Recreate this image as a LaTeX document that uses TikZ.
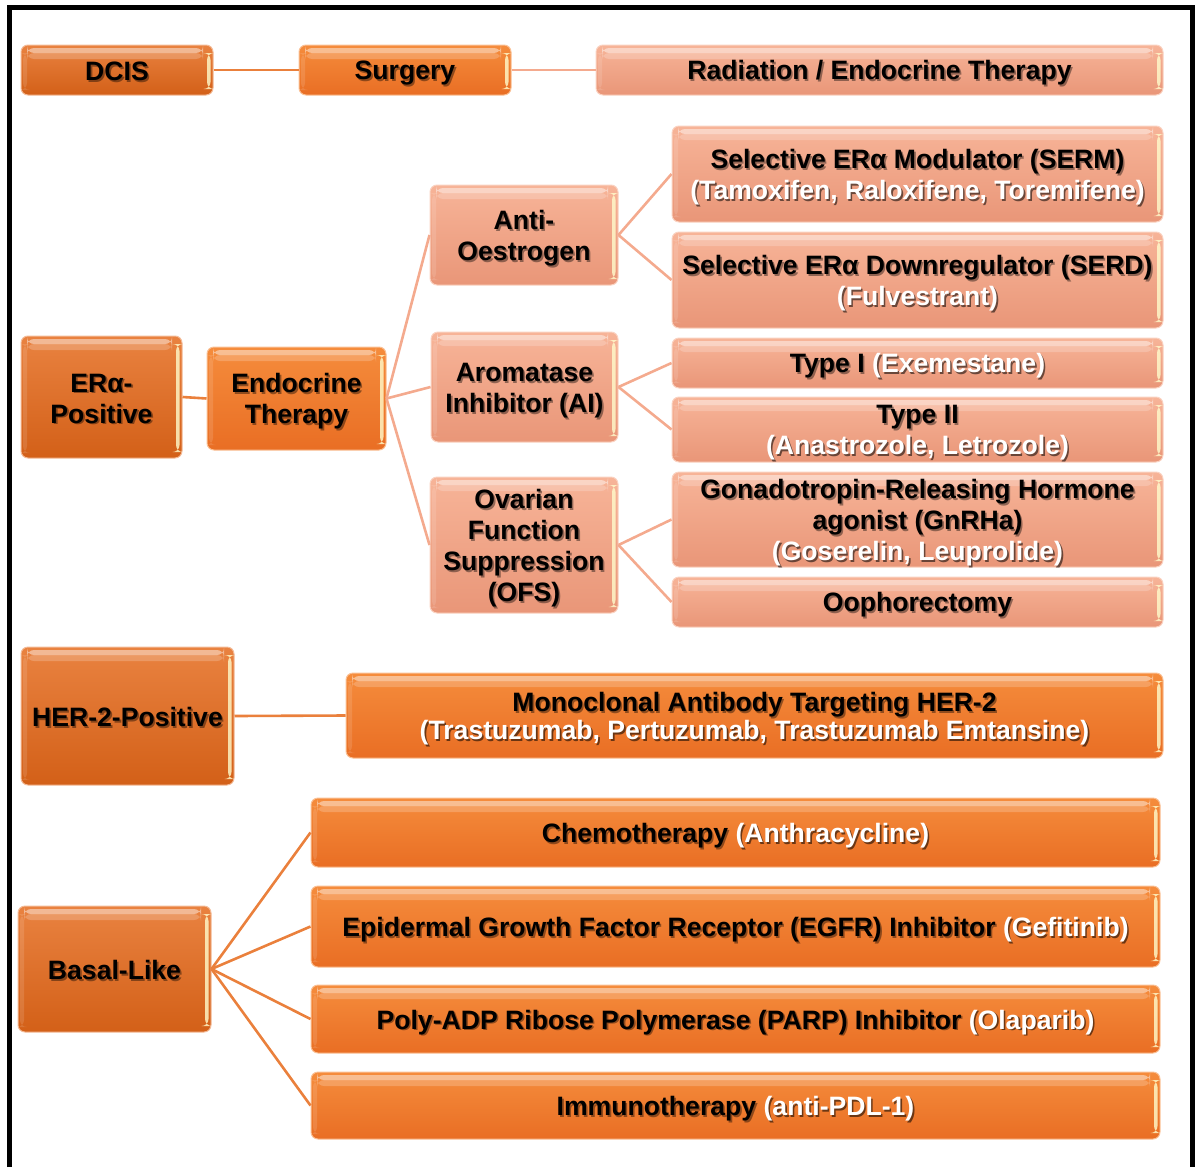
\documentclass[tikz,border=0pt]{standalone}
\usepackage{fontspec}
\setmainfont{Liberation Sans}
\definecolor{dkT}{RGB}{233,130,64}
\definecolor{dkB}{RGB}{211,96,24}
\definecolor{mdT}{RGB}{245,140,60}
\definecolor{mdB}{RGB}{233,110,36}
\definecolor{ltT}{RGB}{247,180,152}
\definecolor{ltB}{RGB}{233,150,120}
\definecolor{lnD}{RGB}{234,128,60}
\definecolor{lnL}{RGB}{244,170,142}
\newcommand\vstrut{\vrule height19.5pt depth5.6pt width0pt}
% black line with shadow
\newcommand\shB[1]{\raisebox{-3.8pt}[\height][\depth]{\vstrut\rlap{\kern1.6pt\raisebox{-1.6pt}{\pgfsetfillopacity{0.4}#1\pgfsetfillopacity{1}}}#1}}
% white line with shadow
\newcommand\shW[1]{\raisebox{-3.8pt}[\height][\depth]{\vstrut\rlap{\kern1.6pt\raisebox{-1.6pt}{\pgfsetfillopacity{0.55}\color{black}#1\pgfsetfillopacity{1}}}{\color{white}#1}}}
% black part + white part on one line
\newcommand\shL[2]{\raisebox{-3.8pt}[\height][\depth]{\vstrut\rlap{\kern1.6pt\raisebox{-1.6pt}{\color{black}\pgfsetfillopacity{0.4}#1 \pgfsetfillopacity{0.55}#2\pgfsetfillopacity{1}}}#1 {\color{white}#2}}}
\tikzset{
 gloss/.style={path picture={
   \fill[white,fill opacity=.45] ([shift={(6pt,-3pt)}]path picture bounding box.north west) rectangle ([shift={(-10pt,-8pt)}]path picture bounding box.north east);
   \fill[white,fill opacity=.2] ([shift={(6pt,-8pt)}]path picture bounding box.north west) rectangle ([shift={(-10pt,-14pt)}]path picture bounding box.north east);
   \fill[white,fill opacity=.12] ([shift={(2pt,-8pt)}]path picture bounding box.north west) rectangle ([shift={(6pt,5pt)}]path picture bounding box.south west);
   \fill[yellow!20!white,fill opacity=.8] ([shift={(-6pt,-8pt)}]path picture bounding box.north east) rectangle ([shift={(-2.5pt,6pt)}]path picture bounding box.south east);
 }},
 box/.style={rectangle, rounded corners=7pt, inner sep=0pt, align=center,
   font=\bfseries\fontsize{26.6}{31}\selectfont, line width=1pt, gloss},
 dark/.style={box, top color=dkT, bottom color=dkB, draw=dkT!55!white},
 mid/.style={box, top color=mdT, bottom color=mdB, draw=mdT!55!white},
 light/.style={box, top color=ltT, bottom color=ltB, draw=ltT!60!white},
 lnd/.style={draw=lnD, line width=2.6pt},
 lnl/.style={draw=lnL, line width=2.6pt},
}
\begin{document}
\begin{tikzpicture}[x=1pt,y=-1pt]
\useasboundingbox (0,0) rectangle (1196,1167);
\draw[line width=5pt] (9.5,1167) -- (9.5,7.5) -- (1192.5,7.5) -- (1192.5,1167);

% Row 1
\node[dark, minimum width=192pt, minimum height=50pt] (dcis) at (117,70) {\shB{DCIS}};
\node[mid, minimum width=212pt, minimum height=50pt] (surg) at (405,70) {\shB{Surgery}};
\node[light, minimum width=567pt, minimum height=50pt] (rad) at (879.5,70) {\shB{Radiation / Endocrine Therapy}};

% ER
\node[dark, minimum width=161pt, minimum height=122pt] (era) at (101.5,397) {\shB{ERα-}\\\shB{Positive}};
\node[mid, minimum width=179pt, minimum height=103pt] (endo) at (296.5,398.5) {\shB{Endocrine}\\\shB{Therapy}};
\node[light, minimum width=188pt, minimum height=100pt] (ae) at (524,235) {\shB{Anti-}\\\shB{Oestrogen}};
\node[light, minimum width=187pt, minimum height=110pt] (ai) at (524.5,387) {\shB{Aromatase}\\\shB{Inhibitor (AI)}};
\node[light, minimum width=188pt, minimum height=136pt] (ofs) at (524,545) {\shB{Ovarian}\\\shB{Function}\\\shB{Suppression}\\\shB{(OFS)}};

\node[light, minimum width=491pt, minimum height=96pt] (serm) at (917.5,174) {\shB{Selective ERα Modulator (SERM)}\\\shW{(Tamoxifen, Raloxifene, Toremifene)}};
\node[light, minimum width=491pt, minimum height=96pt] (serd) at (917.5,280) {\shB{Selective ERα Downregulator (SERD)}\\\shW{(Fulvestrant)}};
\node[light, minimum width=491pt, minimum height=50pt] (t1) at (917.5,363) {\shL{Type I}{(Exemestane)}};
\node[light, minimum width=491pt, minimum height=65pt] (t2) at (917.5,429.5) {\shB{Type II}\\\shW{(Anastrozole, Letrozole)}};
\node[light, minimum width=491pt, minimum height=95pt] (gn) at (917.5,519.5) {\shB{Gonadotropin-Releasing Hormone}\\\shB{agonist (GnRHa)}\\\shW{(Goserelin, Leuprolide)}};
\node[light, minimum width=491pt, minimum height=50pt] (oo) at (917.5,602) {\shB{Oophorectomy}};

% HER-2
\node[dark, minimum width=213pt, minimum height=138pt] (her) at (127.5,716) {\shB{HER-2-Positive}};
\node[mid, minimum width=817pt, minimum height=85pt, font=\bfseries\fontsize{26.6}{28}\selectfont] (mono) at (754.5,715.5) {\shB{Monoclonal Antibody Targeting HER-2}\\\shW{(Trastuzumab, Pertuzumab, Trastuzumab Emtansine)}};

% Basal
\node[dark, minimum width=193pt, minimum height=126pt] (bas) at (114.5,969) {\shB{Basal-Like}};
\node[mid, minimum width=849pt, minimum height=69pt] (chemo) at (735.5,832.5) {\shL{Chemotherapy}{(Anthracycline)}};
\node[mid, minimum width=849pt, minimum height=81pt] (egfr) at (735.5,926.5) {\shL{Epidermal Growth Factor Receptor (EGFR) Inhibitor}{(Gefitinib)}};
\node[mid, minimum width=849pt, minimum height=68pt] (parp) at (735.5,1019) {\shL{Poly-ADP Ribose Polymerase (PARP) Inhibitor}{(Olaparib)}};
\node[mid, minimum width=849pt, minimum height=67pt] (immu) at (735.5,1105.5) {\shL{Immunotherapy}{(anti-PDL-1)}};

% connectors
\draw[lnd] (dcis.east) -- (surg.west);
\draw[lnl] (surg.east) -- (rad.west);
\draw[lnd] (era.east) -- (endo.west);
\draw[lnl] (endo.east) -- (ae.west);
\draw[lnl] (endo.east) -- (ai.west);
\draw[lnl] (endo.east) -- (ofs.west);
\draw[lnl] (ae.east) -- (serm.west);
\draw[lnl] (ae.east) -- (serd.west);
\draw[lnl] (ai.east) -- (t1.west);
\draw[lnl] (ai.east) -- (t2.west);
\draw[lnl] (ofs.east) -- (gn.west);
\draw[lnl] (ofs.east) -- (oo.west);
\draw[lnd] (her.east) -- (mono.west);
\draw[lnd] (bas.east) -- (chemo.west);
\draw[lnd] (bas.east) -- (egfr.west);
\draw[lnd] (bas.east) -- (parp.west);
\draw[lnd] (bas.east) -- (immu.west);
\end{tikzpicture}
\end{document}
